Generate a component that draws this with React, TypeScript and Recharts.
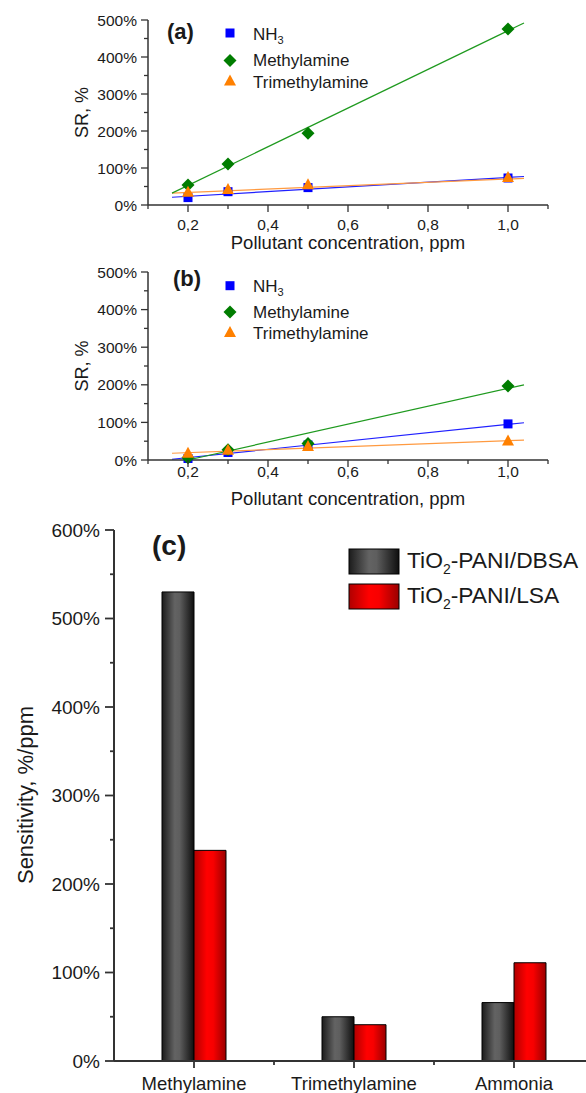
import React from "react";
import {
  ComposedChart,
  Scatter,
  Line,
  XAxis,
  YAxis,
  BarChart,
  Bar,
  Customized,
} from "recharts";

const FONT = 'Arial, "Liberation Sans", sans-serif';
const INK = "#1a1a1a";
const AXIS = "#333";

// panels (a) and (b): SR vs concentration, ppm
const conc = [0.2, 0.3, 0.5, 1.0];
const nh3A = [20, 36, 47, 73];
const methylA = [54, 111, 194, 476];
const trimethylA = [36, 43, 56, 76];
const nh3B = [4, 20, 40, 96];
const methylB = [6, 27, 44, 197];
const trimethylB = [19, 27, 37, 52];

// linear fit end points
const fitConc = [0.16, 1.04];
const nh3FitA = [21, 77];
const methylFitA = [32, 492];
const trimethylFitA = [32, 72];
const methylFitConcB = [0.2, 1.04];
const nh3FitB = [2, 99];
const methylFitB = [0, 200];
const trimethylFitB = [18, 53];

const concTicks = [0.1, 0.2, 0.3, 0.4, 0.5, 0.6, 0.7, 0.8, 0.9, 1.0, 1.1];
const srTicks = [0, 50, 100, 150, 200, 250, 300, 350, 400, 450, 500];

// panel (c): sensitivity, %/ppm
const gases = ["Methylamine", "Trimethylamine", "Ammonia"];
const dbsa = [530, 50, 66];
const lsa = [238, 41, 111];
const sensTicks = [0, 50, 100, 150, 200, 250, 300, 350, 400, 450, 500, 550, 600];

const BLUE = "#0000ff";
const GREEN = "#007d00";
const ORANGE = "#ff8000";

const pts = (xs: number[], ys: number[]) => xs.map((x, i) => ({ x, y: ys[i] }));

const Square = (p: any) => (
  <rect x={p.cx - 4.5} y={p.cy - 4.5} width={9} height={9} fill={BLUE} />
);
const Diamond = (p: any) => (
  <polygon
    points={`${p.cx},${p.cy - 6.5} ${p.cx + 6.5},${p.cy} ${p.cx},${p.cy + 6.5} ${p.cx - 6.5},${p.cy}`}
    fill={GREEN}
  />
);
const Triangle = (p: any) => (
  <polygon
    points={`${p.cx},${p.cy - 6} ${p.cx + 6},${p.cy + 5} ${p.cx - 6},${p.cy + 5}`}
    fill={ORANGE}
  />
);

function srYTick(props: any) {
  const { x, y, payload } = props;
  const v = payload.value;
  const major = v % 100 === 0;
  return (
    <g>
      <line x1={x} x2={x - (major ? 7 : 4)} y1={y} y2={y} stroke={AXIS} strokeWidth={1.3} />
      {major && (
        <text x={x - 11} y={y} dy="0.36em" textAnchor="end" fontSize={15.5} fill={INK} fontFamily={FONT}>
          {v}%
        </text>
      )}
    </g>
  );
}

function makeConcTick(labelDy: number) {
  return (props: any) => {
    const { x, y, payload } = props;
    const v = payload.value;
    const major = Math.round(v * 10) % 2 === 0;
    return (
      <g>
        <line x1={x} x2={x} y1={y} y2={y + (major ? 7 : 4)} stroke={AXIS} strokeWidth={1.3} />
        {major && (
          <text x={x} y={y + labelDy} textAnchor="middle" fontSize={15.5} fill={INK} fontFamily={FONT}>
            {v.toFixed(1).replace(".", ",")}
          </text>
        )}
      </g>
    );
  };
}

type PanelProps = {
  tag: string;
  height: number;
  top: number;
  xAxisHeight: number;
  tickDy: number;
  titleY: number;
  tagX: number;
  tagY: number;
  legendY: number[];
  textY: number[];
  nh3: number[];
  methyl: number[];
  trimethyl: number[];
  nh3Fit: number[];
  methylFit: number[];
  methylFitConc: number[];
  trimethylFit: number[];
};

function SRPanel(p: PanelProps) {
  const plotTop = p.top;
  const plotBottom = p.height - p.xAxisHeight;
  const midY = (plotTop + plotBottom) / 2;
  const overlay = () => (
    <g fontFamily={FONT} fill={INK}>
      <text x={p.tagX} y={p.tagY} fontSize={22} fontWeight="bold">
        {p.tag}
      </text>
      <Square cx={230} cy={p.legendY[0]} />
      <Diamond cx={230} cy={p.legendY[1]} />
      <Triangle cx={230} cy={p.legendY[2]} />
      <text x={253} y={p.textY[0]} fontSize={17}>
        NH
        <tspan dy={4} fontSize={11}>
          3
        </tspan>
      </text>
      <text x={253} y={p.textY[1]} fontSize={17}>
        Methylamine
      </text>
      <text x={253} y={p.textY[2]} fontSize={17}>
        Trimethylamine
      </text>
      <text
        x={0}
        y={0}
        fontSize={18}
        textAnchor="middle"
        transform={`translate(88, ${midY}) rotate(-90)`}
      >
        SR, %
      </text>
      <text x={348} y={p.titleY} fontSize={18.5} textAnchor="middle">
        Pollutant concentration, ppm
      </text>
    </g>
  );
  return (
    <ComposedChart
      width={586}
      height={p.height}
      margin={{ top: p.top, right: 38, bottom: 0, left: 0 }}
    >
      <XAxis
        type="number"
        dataKey="x"
        domain={[0.1, 1.1]}
        ticks={concTicks}
        interval={0}
        height={p.xAxisHeight}
        tickSize={0}
        tickMargin={0}
        tickLine={false}
        axisLine={{ stroke: AXIS, strokeWidth: 1.5 }}
        tick={makeConcTick(p.tickDy)}
      />
      <YAxis
        type="number"
        dataKey="y"
        domain={[0, 500]}
        ticks={srTicks}
        interval={0}
        width={148}
        tickSize={0}
        tickMargin={0}
        tickLine={false}
        axisLine={{ stroke: AXIS, strokeWidth: 1.5 }}
        tick={srYTick}
      />
      <Line data={pts(fitConc, p.nh3Fit)} dataKey="y" stroke="#2020ff" strokeWidth={1.2} dot={false} isAnimationActive={false} />
      <Line data={pts(fitConc, p.trimethylFit)} dataKey="y" stroke="#ff9a40" strokeWidth={1.2} dot={false} isAnimationActive={false} />
      <Line data={pts(p.methylFitConc, p.methylFit)} dataKey="y" stroke="#1f9a1f" strokeWidth={1.2} dot={false} isAnimationActive={false} />
      <Scatter data={pts(conc, p.nh3)} shape={Square} isAnimationActive={false} />
      <Scatter data={pts(conc, p.methyl)} shape={Diamond} isAnimationActive={false} />
      <Scatter data={pts(conc, p.trimethyl)} shape={Triangle} isAnimationActive={false} />
      <Customized component={overlay} />
    </ComposedChart>
  );
}

function sensYTick(props: any) {
  const { x, y, payload } = props;
  const v = payload.value;
  const major = v % 100 === 0;
  return (
    <g>
      <line x1={x} x2={x - (major ? 9 : 4)} y1={y} y2={y} stroke={AXIS} strokeWidth={1.8} />
      {major && (
        <text x={x - 14} y={y} dy="0.36em" textAnchor="end" fontSize={19} fill={INK} fontFamily={FONT}>
          {v}%
        </text>
      )}
    </g>
  );
}

function gasTick(props: any) {
  const { x, y, payload, index } = props;
  return (
    <g>
      <line x1={x} x2={x} y1={y} y2={y + 7} stroke={AXIS} strokeWidth={1.8} />
      {index < gases.length - 1 && (
        <line x1={x + 80} x2={x + 80} y1={y} y2={y + 4} stroke={AXIS} strokeWidth={1.8} />
      )}
      <text x={x} y={y + 29} textAnchor="middle" fontSize={18.5} fill={INK} fontFamily={FONT}>
        {payload.value}
      </text>
    </g>
  );
}

function SensPanel() {
  const rows = gases.map((name, i) => ({ name, dbsa: dbsa[i], lsa: lsa[i] }));
  const overlay = () => (
    <g fontFamily={FONT} fill={INK}>
      <defs>
        <linearGradient id="gDark" x1="0" y1="0" x2="1" y2="0">
          <stop offset="0%" stopColor="#1c1c1c" />
          <stop offset="40%" stopColor="#636363" />
          <stop offset="55%" stopColor="#5e5e5e" />
          <stop offset="100%" stopColor="#0e0e0e" />
        </linearGradient>
        <linearGradient id="gRed" x1="0" y1="0" x2="1" y2="0">
          <stop offset="0%" stopColor="#b00000" />
          <stop offset="40%" stopColor="#ff0000" />
          <stop offset="60%" stopColor="#f80000" />
          <stop offset="100%" stopColor="#9a0000" />
        </linearGradient>
      </defs>
      <text x={152} y={45} fontSize={28} fontWeight="bold">
        (c)
      </text>
      <rect x={349} y={39} width={50} height={25} fill="url(#gDark)" stroke="#000" strokeWidth={1} />
      <rect x={349} y={74} width={50} height={25} fill="url(#gRed)" stroke="#000" strokeWidth={1} />
      <text x={407} y={58} fontSize={22.8}>
        TiO<tspan dy={6} fontSize={14}>2</tspan>
        <tspan dy={-6}>-PANI/DBSA</tspan>
      </text>
      <text x={407} y={93} fontSize={22.8}>
        TiO<tspan dy={6} fontSize={14}>2</tspan>
        <tspan dy={-6}>-PANI/LSA</tspan>
      </text>
      <text
        x={0}
        y={0}
        fontSize={22}
        textAnchor="middle"
        transform="translate(33, 285) rotate(-90)"
      >
        Sensitivity, %/ppm
      </text>
    </g>
  );
  return (
    <BarChart
      width={600}
      height={583}
      data={rows}
      margin={{ top: 20, right: 6, bottom: 0, left: 0 }}
      barCategoryGap="30%"
      barGap={0}
    >
      <XAxis
        dataKey="name"
        height={32}
        interval={0}
        tickSize={0}
        tickMargin={0}
        tickLine={false}
        axisLine={{ stroke: AXIS, strokeWidth: 2 }}
        tick={gasTick}
      />
      <YAxis
        domain={[0, 600]}
        ticks={sensTicks}
        interval={0}
        width={114}
        tickSize={0}
        tickMargin={0}
        tickLine={false}
        axisLine={{ stroke: AXIS, strokeWidth: 2 }}
        tick={sensYTick}
      />
      <Bar dataKey="dbsa" fill="url(#gDark)" stroke="#000" strokeWidth={1} isAnimationActive={false} />
      <Bar dataKey="lsa" fill="url(#gRed)" stroke="#000" strokeWidth={1} isAnimationActive={false} />
      <Customized component={overlay} />
    </BarChart>
  );
}

export default function App() {
  return (
    <div
      style={{
        position: "absolute",
        left: 0,
        top: 0,
        width: 586,
        height: 1093,
        overflow: "hidden",
        background: "#fff",
        fontFamily: FONT,
      }}
    >
      <div style={{ position: "absolute", left: 0, top: 0 }}>
        <SRPanel
          tag="(a)"
          height={252}
          top={20}
          xAxisHeight={47}
          tickDy={25}
          titleY={249}
          tagX={167}
          tagY={39}
          legendY={[33, 60.5, 80.5]}
          textY={[40, 66, 87.5]}
          nh3={nh3A}
          methyl={methylA}
          trimethyl={trimethylA}
          nh3Fit={nh3FitA}
          methylFit={methylFitA}
          methylFitConc={fitConc}
          trimethylFit={trimethylFitA}
        />
      </div>
      <div style={{ position: "absolute", left: 0, top: 250 }}>
        <SRPanel
          tag="(b)"
          height={260}
          top={22}
          xAxisHeight={50}
          tickDy={17}
          titleY={255}
          tagX={173}
          tagY={36}
          legendY={[35.7, 62, 82]}
          textY={[41.7, 68.3, 89]}
          nh3={nh3B}
          methyl={methylB}
          trimethyl={trimethylB}
          nh3Fit={nh3FitB}
          methylFit={methylFitB}
          methylFitConc={methylFitConcB}
          trimethylFit={trimethylFitB}
        />
      </div>
      <div style={{ position: "absolute", left: 0, top: 510 }}>
        <SensPanel />
      </div>
    </div>
  );
}
